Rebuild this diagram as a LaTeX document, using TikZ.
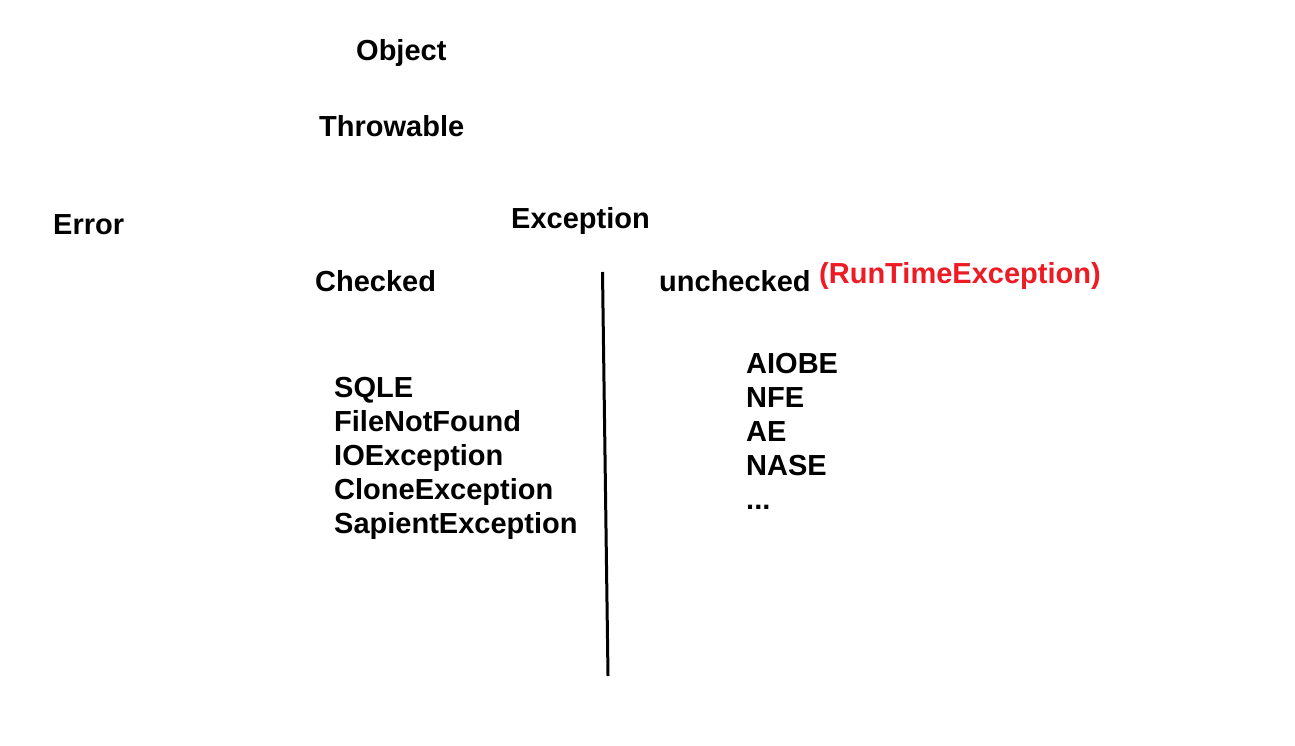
\documentclass[tikz,border=0pt]{standalone}
\usepackage{fontspec}
\setmainfont{Liberation Sans}
\usepackage{tikz}
\definecolor{rtred}{HTML}{ED1C24}
\newcommand{\RTRED}[1]{\textcolor{rtred}{#1}}
\tikzset{
  lbl/.style={anchor=base west, inner sep=0pt, font=\fontsize{29}{34}\selectfont\bfseries},
  divider/.style={line width=3pt, black}
}

\begin{document}
\begin{tikzpicture}[x=1pt, y=-1pt]
  \useasboundingbox (0,0) rectangle (1295,746);

  \node[lbl] (object)    at (356,61)  {Object};
  \node[lbl] (throwable) at (319,137) {Throwable};
  \node[lbl] (error)     at (53,234)  {Error};
  \node[lbl] (exception) at (511,229) {Exception};

  \node[lbl] (checked)   at (315,291) {Checked};
  \node[lbl] (unchecked) at (659,291) {unchecked};
  \node[lbl] (runtime)   at (819,283) {\RTRED{(RunTimeException)}};

  % checked list
  \node[lbl] (sqle)   at (334,397) {SQLE};
  \node[lbl] (fnf)    at (334,431) {FileNotFound};
  \node[lbl] (ioe)    at (334,465) {IOException};
  \node[lbl] (clone)  at (334,499) {CloneException};
  \node[lbl] (sapien) at (334,533) {SapientException};

  % unchecked list
  \node[lbl] (aiobe) at (746,373) {AIOBE};
  \node[lbl] (nfe)   at (746,407) {NFE};
  \node[lbl] (ae)    at (746,441) {AE};
  \node[lbl] (nase)  at (746,475) {NASE};
  \node[lbl] (dots)  at (746,509) {...};

  \coordinate (divtop) at (602.5,272);
  \coordinate (divbot) at (608,676);
  \draw[divider] (divtop) -- (divbot);

\end{tikzpicture}
\end{document}
